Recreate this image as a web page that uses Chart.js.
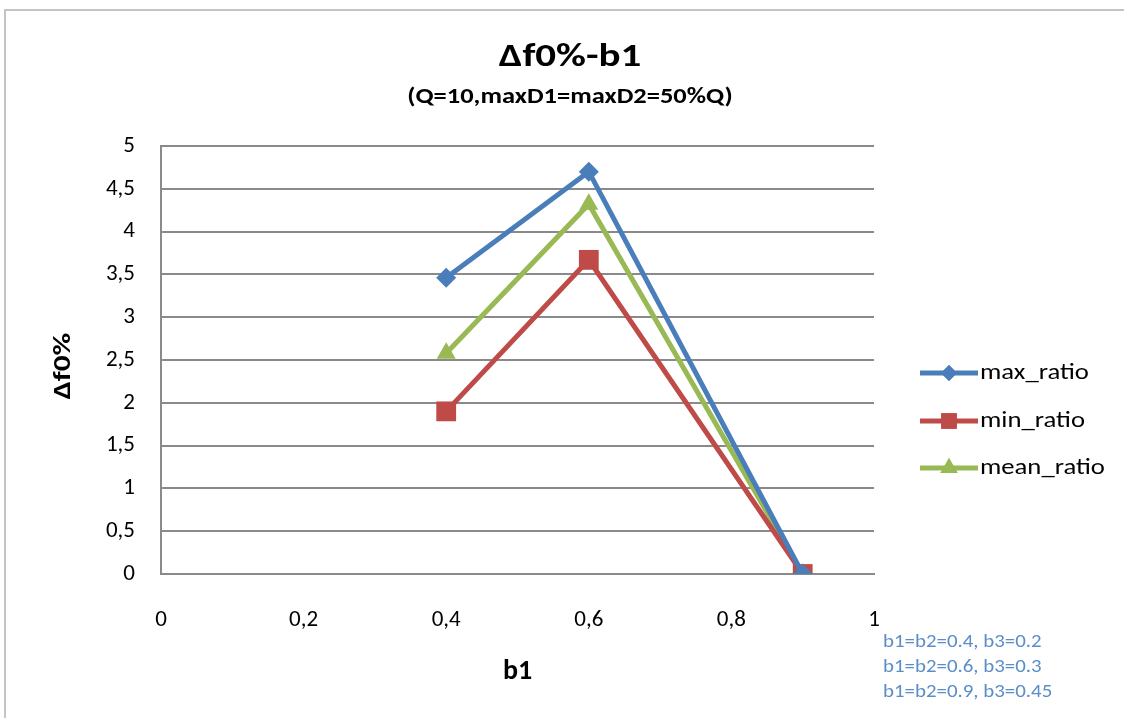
<!DOCTYPE html>
<html>
<head>
<meta charset="utf-8">
<script src="https://cdn.jsdelivr.net/npm/chart.js@4/dist/chart.umd.min.js"></script>
<style>
  html, body { margin: 0; padding: 0; background: #ffffff; }
  #wrap { position: relative; width: 1124px; height: 718px; overflow: hidden; background: #fff; }
  #frame { position: absolute; left: 4px; top: 9px; width: 1140px; height: 740px; border: 2px solid #c4c4c4; box-sizing: border-box; }
  canvas { position: absolute; left: 0; top: 0; }
</style>
</head>
<body>
<div id="wrap">
  <div id="frame"></div>
  <canvas id="c" width="1124" height="718"></canvas>
</div>
<script>
// ---- data ----
const b1Values = [0.4, 0.6, 0.9];
const maxRatio = [3.46, 4.70, 0];
const minRatio = [1.90, 3.67, 0];
const meanRatio = [2.58, 4.32, 0];
const seriesNames = ['max_ratio', 'min_ratio', 'mean_ratio'];
const xTickLabels = ['0', '0,2', '0,4', '0,6', '0,8', '1'];
const yTickLabels = ['0', '0,5', '1', '1,5', '2', '2,5', '3', '3,5', '4', '4,5', '5'];
const chartTitle = 'Δf0%-b1';
const chartSubtitle = '(Q=10,maxD1=maxD2=50%Q)';
const xTitle = 'b1';
const yTitle = 'Δf0%';
const noteLines = ['b1=b2=0.4, b3=0.2', 'b1=b2=0.6, b3=0.3', 'b1=b2=0.9, b3=0.45'];

const FONT = 'Carlito, Lato, sans-serif';
const colors = ['#4a7ebb', '#be4b48', '#98b954'];
const markers = ['rectRot', 'rect', 'triangle'];
const radii = [10, 14, 11];
const legendRadii = [8, 11, 10];

function pts(ys) { return b1Values.map((x, i) => ({ x: x, y: ys[i] })); }
const seriesData = [maxRatio, minRatio, meanRatio];

const datasets = seriesData.map((ys, i) => ({
  label: seriesNames[i],
  data: pts(ys),
  borderColor: colors[i],
  backgroundColor: colors[i],
  borderWidth: 5,
  pointStyle: markers[i],
  pointRadius: radii[i],
  pointBorderWidth: 0,
  pointBackgroundColor: colors[i],
  showLine: true,
  tension: 0
}));

function drawText(ctx, text, x, y, font, sx) {
  ctx.save();
  ctx.translate(x, y);
  ctx.scale(sx, 1);
  ctx.font = font;
  ctx.fillText(text, 0, 0);
  ctx.restore();
}

const overlay = {
  id: 'overlay',
  afterDraw(chart) {
    const ctx = chart.ctx;
    const ca = chart.chartArea;
    ctx.save();
    ctx.fillStyle = '#000';
    ctx.textAlign = 'center';
    ctx.textBaseline = 'middle';
    drawText(ctx, chartTitle, 570, 58, 'bold 32px ' + FONT, 1.28);
    drawText(ctx, chartSubtitle, 570, 97, 'bold 23px ' + FONT, 1.15);
    // axis titles
    drawText(ctx, xTitle, (ca.left + ca.right) / 2, 672, 'bold 28px ' + FONT, 1.0);
    ctx.save();
    ctx.translate(64, 366);
    ctx.rotate(-Math.PI / 2);
    drawText(ctx, yTitle, 0, 0, 'bold 25px ' + FONT, 1.25);
    ctx.restore();
    // legend
    ctx.textAlign = 'left';
    const ly = [373, 421, 468];
    chart.data.datasets.forEach((ds, i) => {
      ctx.strokeStyle = ds.borderColor;
      ctx.lineWidth = 5;
      ctx.beginPath();
      ctx.moveTo(920, ly[i]);
      ctx.lineTo(978, ly[i]);
      ctx.stroke();
      ctx.fillStyle = ds.backgroundColor;
      Chart.helpers.drawPoint(ctx, { pointStyle: ds.pointStyle, radius: legendRadii[i], borderWidth: 0, rotation: 0 }, 949, ly[i]);
      ctx.fill();
      ctx.fillStyle = '#000';
      drawText(ctx, ds.label, 980, ly[i], '23px ' + FONT, 1.16);
    });
    // note
    ctx.fillStyle = '#5b8ec9';
    noteLines.forEach((t, i) => drawText(ctx, t, 883, 642 + i * 25, '18px ' + FONT, 1.16));
    ctx.restore();
  }
};

new Chart(document.getElementById('c'), {
  type: 'scatter',
  data: { datasets: datasets },
  options: {
    responsive: false,
    animation: false,
    events: [],
    layout: { padding: { left: 0, right: 250, top: 146, bottom: 0 } },
    plugins: { legend: { display: false }, title: { display: false }, tooltip: { enabled: false } },
    scales: {
      x: {
        type: 'linear', min: 0, max: 1,
        afterFit(s) { s.height = 144; },
        afterBuildTicks(s) { s.ticks = xTickLabels.map((_, i) => ({ value: i * 0.2 })); },
        grid: { display: false, drawTicks: false },
        border: { display: true, color: '#8a8a8a', width: 2 },
        ticks: { padding: 32, color: '#000', font: { family: FONT, size: 23 },
          callback: (v, i) => xTickLabels[i] }
      },
      y: {
        type: 'linear', min: 0, max: 5,
        afterFit(s) { s.width = 161; },
        afterBuildTicks(s) { s.ticks = yTickLabels.map((_, i) => ({ value: i * 0.5 })); },
        grid: { color: '#8a8a8a', lineWidth: 2, drawTicks: false },
        border: { display: true, color: '#8a8a8a', width: 2 },
        ticks: { padding: 26, color: '#000', font: { family: FONT, size: 23 },
          callback: (v, i) => yTickLabels[i] }
      }
    }
  },
  plugins: [overlay]
});
</script>
</body>
</html>
